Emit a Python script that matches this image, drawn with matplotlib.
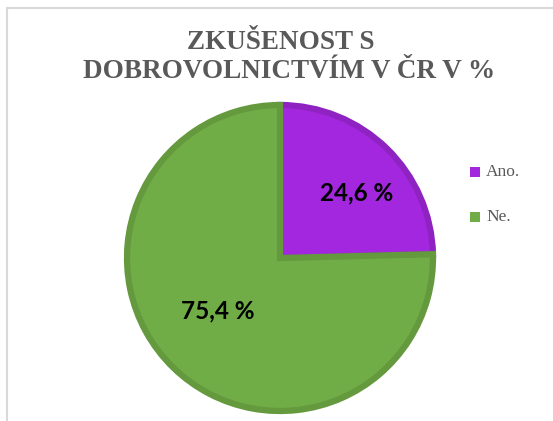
import matplotlib.pyplot as plt
from matplotlib.lines import Line2D

# data
labels = ['Ano.', 'Ne.']
values = [24.6, 75.4]

title_1 = 'ZKUŠENOST S'
title_2 = 'DOBROVOLNICTVÍM V ČR V %'

fills = ['#A327DE', '#70AD47']
edges = ['#8E23C2', '#64993E']
# where the percentage labels sit, relative to the centre, in radii
label_pos = [(0.50, 0.425), (-0.405, -0.345)]

W, H = 553, 421
fig = plt.figure(figsize=(W / 100, H / 100), dpi=100)
ax = fig.add_axes([0, 0, 1, 1])

# pie in pixel-like coords (y up)
cx, cy, r = 280, H - 258, 153
wedges, _ = ax.pie(values, colors=fills, startangle=90, counterclock=False,
                   center=(cx, cy), radius=r, frame=True,
                   wedgeprops=dict(linewidth=4.5))
for w, ec in zip(wedges, edges):
    w.set_edgecolor(ec)

ax.set_xlim(0, W)
ax.set_ylim(0, H)
ax.set_aspect('equal')
ax.axis('off')

# percentage labels inside the slices
for v, (dx, dy) in zip(values, label_pos):
    txt = f'{v:.1f}'.replace('.', ',') + ' %'
    ax.text(cx + dx * r, cy + dy * r, txt,
            ha='center', va='center', fontsize=17.5, fontweight='bold',
            family='Lato', color='black')

# title (two lines, as in the original)
tkw = dict(ha='center', va='baseline', fontsize=19.5, fontweight='bold',
           family='Liberation Serif', color='#595959')
ax.text(281, H - 49, title_1, **tkw)
ax.text(289, H - 78, title_2, **tkw)

# legend
for i, (lab, c) in enumerate(zip(labels, fills)):
    y = H - 172 - i * 45
    ax.scatter([475], [y], marker='s', s=55, color=c, edgecolors='none')
    ax.text(486, y, lab, ha='left', va='center', fontsize=12.5,
            family='Liberation Serif', color='#595959')

# chart area border (top and left visible)
fig.add_artist(Line2D([7 / W, 1], [1 - 8 / H, 1 - 8 / H], color='#D9D9D9', lw=1.5))
fig.add_artist(Line2D([7 / W, 7 / W], [0, 1 - 8 / H], color='#D9D9D9', lw=1.5))

fig.savefig('out.png', dpi=100, facecolor='white')
